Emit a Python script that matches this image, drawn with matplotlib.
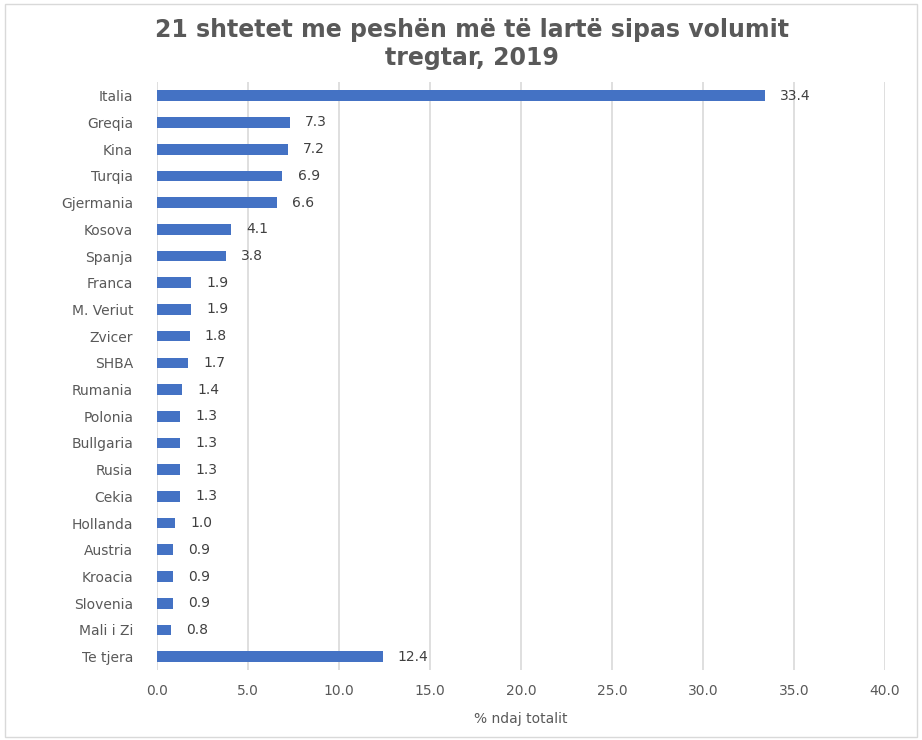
import matplotlib.pyplot as plt
from matplotlib.patches import Rectangle

countries = ['Italia', 'Greqia', 'Kina', 'Turqia', 'Gjermania', 'Kosova', 'Spanja',
             'Franca', 'M. Veriut', 'Zvicer', 'SHBA', 'Rumania', 'Polonia', 'Bullgaria',
             'Rusia', 'Cekia', 'Hollanda', 'Austria', 'Kroacia', 'Slovenia', 'Mali i Zi',
             'Te tjera']
values = [33.4, 7.3, 7.2, 6.9, 6.6, 4.1, 3.8, 1.9, 1.9, 1.8, 1.7, 1.4, 1.3, 1.3,
          1.3, 1.3, 1.0, 0.9, 0.9, 0.9, 0.8, 12.4]
xticks = [0, 5, 10, 15, 20, 25, 30, 35, 40]

txt = '#595959'
fig = plt.figure(figsize=(9.22, 7.4), dpi=100)
ax = fig.add_axes([0.170, 0.0946, 0.790, 0.794])

# chart border
fig.patches.append(Rectangle((0.005, 0.004), 0.99, 0.99, transform=fig.transFigure,
                             fill=False, edgecolor='#d9d9d9', linewidth=1))

y = list(range(len(countries)))
ax.barh(y, values, height=0.40, color='#4472c4', zorder=3)
for yi, v in zip(y, values):
    ax.annotate(f'{v:.1f}', (v, yi), xytext=(11, 0), textcoords='offset points',
                va='center', ha='left', fontsize=10, color='#404040')

ax.set_xlim(0, 40)
ax.set_ylim(21.5, -0.5)
ax.set_xticks(xticks)
ax.set_xticklabels([f'{t:.1f}' for t in xticks])
ax.set_yticks(y)
ax.set_yticklabels(countries)
ax.tick_params(axis='both', length=0, colors=txt, labelsize=10)
ax.tick_params(axis='y', pad=17)
ax.tick_params(axis='x', pad=10)
ax.grid(axis='x', color='#d9d9d9', linewidth=1.2, zorder=0)
for s in ax.spines.values():
    s.set_visible(False)
ax.set_xlabel('% ndaj totalit', color=txt, fontsize=10, labelpad=10)

fig.suptitle('21 shtetet me peshën më të lartë sipas volumit\ntregtar, 2019',
             x=0.512, y=0.976, fontsize=17, fontweight='bold', color=txt,
             family='DejaVu Sans', linespacing=1.2)

fig.savefig('out.png', dpi=100)
